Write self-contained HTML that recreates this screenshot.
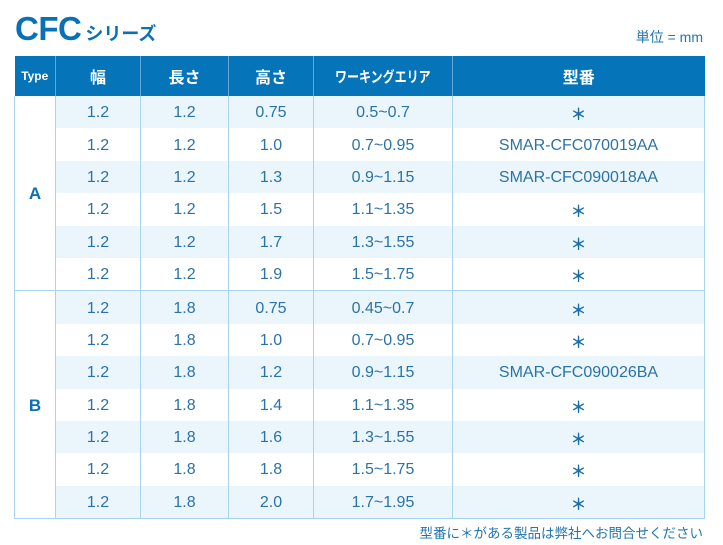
<!DOCTYPE html>
<html><head><meta charset="utf-8"><style>
body{margin:0;width:723px;height:545px;background:#fff;font-family:"Liberation Sans","Noto Sans CJK JP",sans-serif;position:relative;overflow:hidden}
.t{position:absolute;left:15px;top:10px;color:#0a71b4;font-weight:bold;font-size:33px;letter-spacing:-0.5px}
.t span{font-size:18px;letter-spacing:0;margin-left:4px}
.u{position:absolute;right:20px;top:27px;color:#2275b0;font-size:14px}
table{position:absolute;left:14px;top:56px;border-collapse:collapse;table-layout:fixed;width:690px}
th{background:#0574b8;color:#fff;font-weight:bold;font-size:16px;height:40px;border-left:1px solid #5fa8d8;padding:0}
th:first-child{border-left:none;font-size:12px}
th.w span{display:inline-block;transform:scaleX(0.8);font-size:15px;white-space:nowrap}
td{height:30.4px;padding:2px 0 0 0;text-align:center;color:#2b73a6;font-size:16px;border:1px solid #a8d4ee;border-top:none;border-bottom:none}
tr.l td{background:#eaf5fc}
tr td.ty{background:#fff!important;color:#0a71b4;font-weight:bold;font-size:17px;border-bottom:1px solid #a8d4ee}
tr.e td{border-bottom:1px solid #a8d4ee}
.s{font-weight:bold;font-size:16px;color:#1a6ea8}
.n{position:absolute;right:20px;top:522px;color:#2275b0;font-size:13.5px}
</style></head><body>
<div class="t">CFC<span>シリーズ</span></div>
<div class="u">単位 = mm</div>
<table>
<colgroup><col style="width:41px"><col style="width:85px"><col style="width:88px"><col style="width:85px"><col style="width:139px"><col style="width:252px"></colgroup>
<tr><th>Type</th><th>幅</th><th>長さ</th><th>高さ</th><th class="w"><span>ワーキングエリア</span></th><th>型番</th></tr>
<tr class="l"><td class="ty" rowspan="6">A</td><td>1.2</td><td>1.2</td><td>0.75</td><td>0.5~0.7</td><td class="s">＊</td></tr>
<tr><td>1.2</td><td>1.2</td><td>1.0</td><td>0.7~0.95</td><td>SMAR-CFC070019AA</td></tr>
<tr class="l"><td>1.2</td><td>1.2</td><td>1.3</td><td>0.9~1.15</td><td>SMAR-CFC090018AA</td></tr>
<tr><td>1.2</td><td>1.2</td><td>1.5</td><td>1.1~1.35</td><td class="s">＊</td></tr>
<tr class="l"><td>1.2</td><td>1.2</td><td>1.7</td><td>1.3~1.55</td><td class="s">＊</td></tr>
<tr class="e"><td>1.2</td><td>1.2</td><td>1.9</td><td>1.5~1.75</td><td class="s">＊</td></tr>
<tr class="l"><td class="ty" rowspan="7">B</td><td>1.2</td><td>1.8</td><td>0.75</td><td>0.45~0.7</td><td class="s">＊</td></tr>
<tr><td>1.2</td><td>1.8</td><td>1.0</td><td>0.7~0.95</td><td class="s">＊</td></tr>
<tr class="l"><td>1.2</td><td>1.8</td><td>1.2</td><td>0.9~1.15</td><td>SMAR-CFC090026BA</td></tr>
<tr><td>1.2</td><td>1.8</td><td>1.4</td><td>1.1~1.35</td><td class="s">＊</td></tr>
<tr class="l"><td>1.2</td><td>1.8</td><td>1.6</td><td>1.3~1.55</td><td class="s">＊</td></tr>
<tr><td>1.2</td><td>1.8</td><td>1.8</td><td>1.5~1.75</td><td class="s">＊</td></tr>
<tr class="l e"><td>1.2</td><td>1.8</td><td>2.0</td><td>1.7~1.95</td><td class="s">＊</td></tr>
</table>
<div class="n">型番に＊がある製品は弊社へお問合せください</div>
</body></html>
